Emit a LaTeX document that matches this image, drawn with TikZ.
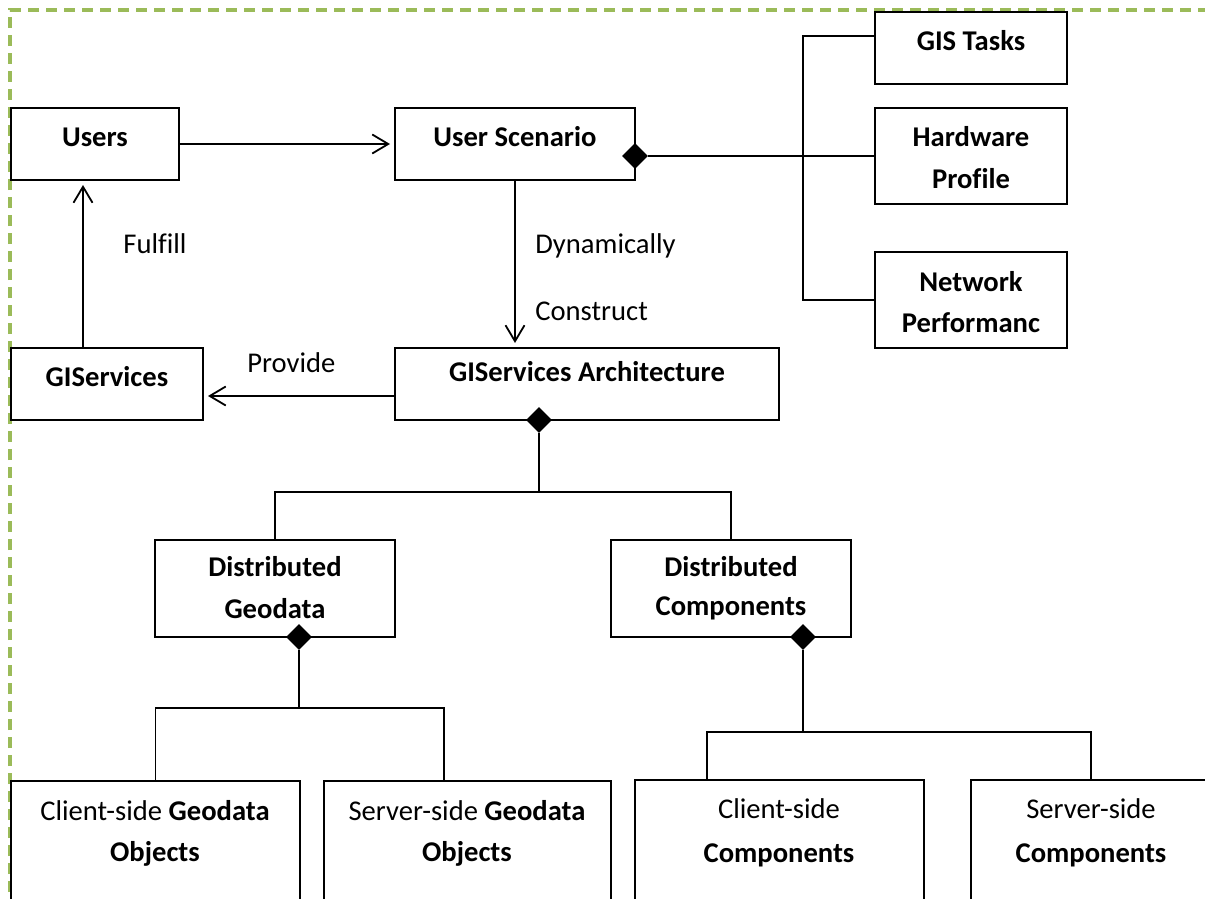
\documentclass[tikz,border=0pt]{standalone}
\usepackage{fontspec}
\setmainfont{Carlito}[Ligatures=NoCommon]
\usetikzlibrary{arrows.meta,fit,shapes.geometric}
\definecolor{bordergreen}{HTML}{9BBB59}
\begin{document}
\begin{tikzpicture}[x=0.5pt,y=-0.5pt,
  box/.style={draw=black, line width=1pt, inner sep=0pt, rectangle},
  lbl/.style={anchor=base, inner sep=0pt, font=\fontsize{14.3pt}{17pt}\selectfont},
  lblw/.style={lbl, anchor=base west},
  conn/.style={draw=black, line width=0.9pt},
  arr/.style={conn, -{Straight Barb[length=8pt,width=9.5pt]}, shorten >=2pt},
  dmd/.style={diamond, fill=black, draw=none, minimum width=13pt, minimum height=13pt, inner sep=0pt},
  frame/.style={draw=bordergreen, line width=1.8pt, dash pattern=on 5.5pt off 3.5pt}]
\useasboundingbox (0,0) rectangle (1205,899);
\clip (0,0) rectangle (1205,899);
\draw[frame] (10,1000) -- (10,10) -- (1300,10);

% boxes
\node[box, fit={(11,108)(179,180)}] (users) {};
\node[box, fit={(395,108)(635,180)}] (scen) {};
\node[box, fit={(875,12)(1067,84)}] (gist) {};
\node[box, fit={(875,108)(1067,204)}] (hw) {};
\node[box, fit={(875,252)(1067,348)}] (net) {};
\node[box, fit={(11,348)(203,420)}] (gisv) {};
\node[box, fit={(395,348)(779,420)}] (arch) {};
\node[box, fit={(155,540)(395,637)}] (dgeo) {};
\node[box, fit={(611,540)(851,637)}] (dcomp) {};
\node[box, fit={(11,781)(300,960)}] (cgeo) {};
\node[box, fit={(324,781)(611,960)}] (sgeo) {};
\node[box, fit={(635,780)(924,960)}] (ccomp) {};
\node[box, fit={(971,780)(1211,960)}] (scomp) {};

% connectors
\coordinate (fx) at (83,0);
\coordinate (py) at (0,396);
\draw[arr] (users.east) -- (scen.west);
\draw[arr] (gisv.north -| fx) -- (users.south -| fx);
\draw[arr] (scen.south) -- (arch.north -| scen.south);
\draw[arr] (arch.west |- py) -- (gisv.east |- py);

\node[dmd] (dscen) at (635,156) {};
\draw[conn] (dscen.east) -- (hw.west |- dscen.east);
\coordinate (jt) at (803,36);
\draw[conn] (gist.west |- jt) -- (jt) -- (jt |- net.west) -- (net.west);

\node[dmd] (darch) at (539,420) {};
\coordinate (b1) at (539,492);
\draw[conn] (darch.south) -- (b1);
\draw[conn] (dgeo.north) |- (b1) -| (dcomp.north);

\node[dmd] (dgeod) at (299,637) {};
\coordinate (b2) at (299,708);
\coordinate (b2r) at (444,708);
\draw[conn] (dgeod.south) -- (b2);
\draw[conn] (cgeo.north) |- (b2) -- (b2r) -- (b2r |- sgeo.north);

\node[dmd] (dcompd) at (803,637) {};
\coordinate (b3) at (803,732);
\coordinate (b3l) at (707,732);
\coordinate (b3r) at (1091,732);
\draw[conn] (dcompd.south) -- (b3);
\draw[conn] (b3l |- ccomp.north) -- (b3l) -- (b3r) -- (b3r |- scomp.north);

% texts
\node[lbl] (users-t) at (95,147) {\bfseries Users};
\node[lbl] (scen-t) at (515,147) {\bfseries User Scenario};
\node[lbl] (gist-t) at (971,51) {\bfseries GIS Tasks};
\node[lbl] (hw-t1) at (971,147) {\bfseries Hardware};
\node[lbl] (hw-t2) at (971,188) {\bfseries Profile};
\node[lbl] (net-t1) at (971,291) {\bfseries Network};
\node[lbl] (net-t2) at (971,332) {\bfseries Performanc};
\node[lbl] (gisv-t) at (107,386) {\bfseries GIServices};
\node[lbl] (arch-t) at (587,381) {\bfseries GIServices Architecture};
\node[lbl] (dgeo-t1) at (275,576) {\bfseries Distributed};
\node[lbl] (dgeo-t2) at (275,618) {\bfseries Geodata};
\node[lbl] (dcomp-t1) at (731,576) {\bfseries Distributed};
\node[lbl] (dcomp-t2) at (731,615) {\bfseries Components};
\node[lbl] (cgeo-t1) at (155,820) {Client-side \textbf{Geodata}};
\node[lbl] (cgeo-t2) at (155,861) {\bfseries Objects};
\node[lbl] (sgeo-t1) at (467,820) {Server-side \textbf{Geodata}};
\node[lbl] (sgeo-t2) at (467,861) {\bfseries Objects};
\node[lbl] (ccomp-t1) at (779,818) {Client-side};
\node[lbl] (ccomp-t2) at (779,862) {\bfseries Components};
\node[lbl] (scomp-t1) at (1091,818) {Server-side};
\node[lbl] (scomp-t2) at (1091,862) {\bfseries Components};

\node[lblw] (ful-t) at (123,253) {Fulfill};
\node[lblw] (dyn-t) at (535,253) {Dynamically};
\node[lblw] (con-t) at (535,320) {Construct};
\node[lblw] (pro-t) at (247,372) {Provide};
\end{tikzpicture}
\end{document}
